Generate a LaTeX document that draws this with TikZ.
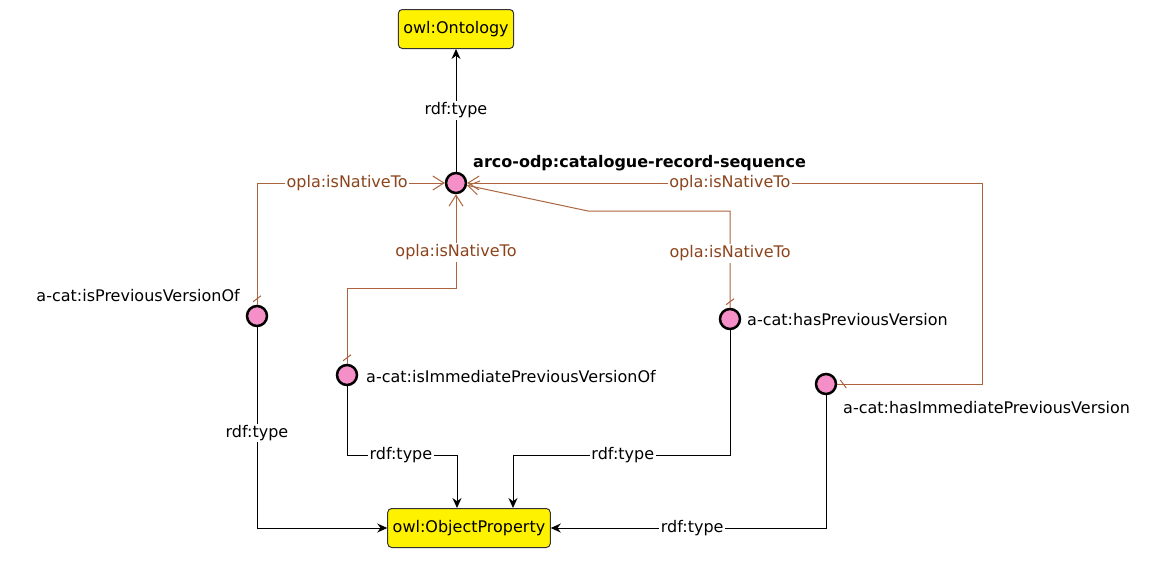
\documentclass[tikz,border=0pt]{standalone}
\usepackage{fontspec}
\setmainfont{DejaVu Sans}
\usetikzlibrary{arrows.meta,decorations.markings}
\definecolor{natbrown}{RGB}{140,68,28}
\definecolor{natline}{RGB}{172,100,62}
\definecolor{proppink}{RGB}{245,143,200}

\begin{document}
\begin{tikzpicture}
  [x=1pt,y=-1pt,font=\fontsize{16}{19}\selectfont,
   cls/.style={draw=black!80,fill=yellow,rounded corners=4pt,line width=1pt,minimum height=39pt,inner xsep=5pt},
   prop/.style={circle,draw,fill=proppink,line width=2.5pt,minimum size=20pt,inner sep=0pt},
   plbl/.style={inner sep=0pt},
   lbl/.style={fill=white,inner sep=1.5pt},
   nlbl/.style={lbl,text=natbrown},
   type/.style={draw,line width=1pt,-{Stealth[length=10pt,width=9pt]}},
   native/.style={draw=natline,line width=1pt,-{Straight Barb[length=11pt,width=14pt]},
     postaction={decorate,decoration={markings,mark=at position 6pt with {\draw[natline,line width=1pt,-] (-3pt,4pt) -- (3pt,-4pt);}}}}]
  \useasboundingbox (0,0) rectangle (1161,562);

  \node[cls] (ont) at (456,29) {owl:Ontology};
  \node[cls] (op) at (469,528) {owl:ObjectProperty};

  \node[prop] (crs) at (456,183) {};
  \node[prop] (ipvo) at (257,316) {};
  \node[prop] (iipvo) at (347,375) {};
  \node[prop] (hpv) at (730,319) {};
  \node[prop] (hipv) at (826,384) {};

  \node[plbl,anchor=base west] (crsl) at (473,167) {\bfseries arco-odp:catalogue-record-sequence};
  \node[plbl,anchor=base east] (ipvol) at (240,301) {a-cat:isPreviousVersionOf};
  \node[plbl,anchor=base west] (iipvol) at (366,382) {a-cat:isImmediatePreviousVersionOf};
  \node[plbl,anchor=base west] (hpvl) at (747,325) {a-cat:hasPreviousVersion};
  \node[plbl,anchor=base west] (hipvl) at (843,413) {a-cat:hasImmediatePreviousVersion};

  \draw[type] (crs) -- node[lbl]{rdf:type} (ont);

  \draw[native] (ipvo) |- node[nlbl,pos=0.74]{opla:isNativeTo} (crs);
  \draw[native] (iipvo) -- ++(0,-87) -| node[nlbl,pos=0.69]{opla:isNativeTo} (crs);
  \draw[native] (hpv) -- node[nlbl,pos=0.56]{opla:isNativeTo} ++(0,-108) -- (588,211) -- (crs);
  \draw[native] (hipv) -- ++(156,0) |- node[nlbl,pos=0.745]{opla:isNativeTo} (crs);

  \draw[type] (ipvo) |- node[lbl,pos=0.264]{rdf:type} (op);
  \draw[type] (iipvo) -- ++(0,80) -| node[lbl,pos=0.245]{rdf:type} ([xshift=-12pt]op.north);
  \draw[type] (hpv) -- ++(0,136) -| node[lbl,pos=0.247]{rdf:type} ([xshift=44pt]op.north);
  \draw[type] (hipv) |- node[lbl,pos=0.743]{rdf:type} (op);

\end{tikzpicture}
\end{document}
